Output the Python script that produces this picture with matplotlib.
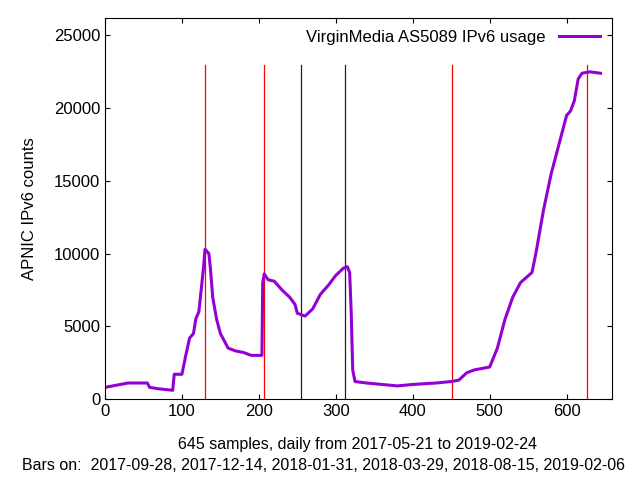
import matplotlib
matplotlib.use("Agg")
import matplotlib.pyplot as plt
plt.rcParams["font.family"] = "Liberation Sans"

days = [0,10,20,30,55,58,70,88,90,100,105,110,115,118,122,125,128,130,135,137,140,145,150,155,160,170,180,190,204,205,207,212,220,230,240,247,250,260,270,280,290,300,310,315,318,320,322,325,340,360,380,400,430,450,460,470,480,490,500,510,520,530,540,555,560,570,580,590,600,605,610,615,620,630,644]
counts = [800,900,1000,1100,1100,800,700,600,1700,1700,3000,4200,4500,5500,6000,7500,9000,10300,10000,9000,7000,5500,4500,4000,3500,3300,3200,3000,3000,8000,8600,8200,8100,7500,7000,6500,5900,5700,6200,7200,7800,8500,9000,9100,8700,6000,2000,1200,1100,1000,900,1000,1100,1200,1300,1800,2000,2100,2200,3500,5500,7000,8000,8700,10000,13000,15500,17500,19500,19800,20500,22000,22400,22500,22400]
bar_days = [130,207,255,312,451,626]
bar_colors = ["red","red","#202020","#202020","red","red"]

fig = plt.figure(figsize=(6.4,4.8), dpi=100)
ax = fig.add_axes([105/640, 1-399/480, 507/640, 381/480])
for d, c in zip(bar_days, bar_colors):
    ax.plot([d, d], [0, 23000], color=c, lw=0.9)
ax.plot(days, counts, color="#9400D3", lw=2.2, label="VirginMedia AS5089 IPv6 usage")
ax.set_xlim(0, 659)
ax.set_ylim(0, 26200)
ax.set_xticks(range(0, 601, 100))
ax.set_yticks(range(0, 25001, 5000))
ax.tick_params(direction="in", top=True, right=True, labelsize=12)
fig.text(358/640, 1-445/480, "645 samples, daily from 2017-05-21 to 2019-02-24", fontsize=11.5, ha="center", va="center")
fig.text(323/640, 1-465/480, "Bars on:  2017-09-28, 2017-12-14, 2018-01-31, 2018-03-29, 2018-08-15, 2019-02-06", fontsize=11.5, ha="center", va="center")
ax.set_ylabel("APNIC IPv6 counts", fontsize=12, labelpad=12)
ax.legend(loc="upper right", frameon=False, fontsize=12, markerfirst=False, handlelength=2.5, borderaxespad=0.3)
fig.savefig("out.png", dpi=100)
